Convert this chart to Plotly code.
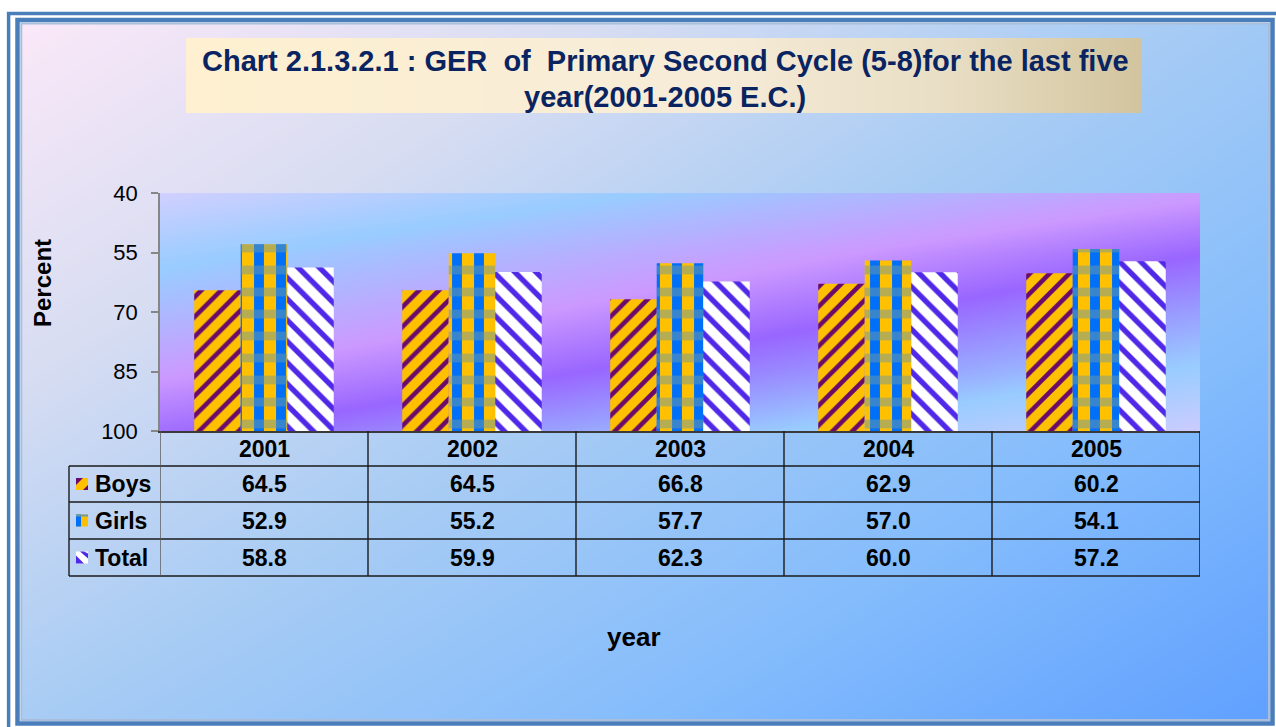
import plotly.graph_objects as go

# ---------------- data ----------------
years = ["2001", "2002", "2003", "2004", "2005"]
boys = [64.5, 64.5, 66.8, 62.9, 60.2]
girls = [52.9, 55.2, 57.7, 57.0, 54.1]
total = [58.8, 59.9, 62.3, 60.0, 57.2]
series_names = ["Boys", "Girls", "Total"]
y_ticks = [40, 55, 70, 85, 100]
axis_base = 100
axis_top = 40

title_line1 = "Chart 2.1.3.2.1 : GER  of  Primary Second Cycle (5-8)for the last five"
title_line2 = "year(2001-2005 E.C.)"
y_title = "Percent"
x_title = "year"

# ---------------- layout helpers ----------------
W, H = 1276, 727
FONT = "Liberation Sans, Arial, sans-serif"


def fx(px):
    return px / W


def fy(py):
    return 1 - py / H


def path(points):
    return "M " + " L ".join(f"{fx(x):.5f},{fy(y):.5f}" for x, y in points) + " Z"


PLOT_L, PLOT_R, PLOT_T, PLOT_B = 160, 1200, 193, 431
xpos = list(range(len(years)))

fig = go.Figure()

# page background gradient (decoration) on its own invisible axes
fig.add_trace(go.Heatmap(
    x=[0, 1], y=[0, 1], z=[[0.5, 1.0], [0.0, 0.55]],
    zsmooth="best", showscale=False, hoverinfo="skip",
    colorscale=[[0, "#FAE8F8"], [0.25, "#D8DDF2"], [0.5, "#A8CCF4"],
                [0.75, "#84BCFC"], [1, "#60A0FF"]],
    xaxis="x", yaxis="y",
))

# plot-area gradient (decoration)
fig.add_trace(go.Heatmap(
    x=[-0.5, len(years) - 0.5], y=y_ticks,
    z=[[0.05, 0.45], [0.2, 0.6], [0.32, 0.72], [0.45, 0.83], [0.58, 0.97]],
    zsmooth="best", showscale=False, hoverinfo="skip",
    colorscale=[[0, "#D0D0FF"], [0.2, "#99CCFF"], [0.45, "#CC99FF"],
                [0.6, "#9966FF"], [0.83, "#99CCFF"], [1, "#CCCCFF"]],
    xaxis="x2", yaxis="y2",
))

bar_w = 0.2236
offsets = [-0.3355, -0.1119, 0.1117]
styles = [
    dict(shape="/", bgcolor="#FFC000", fgcolor="#6A0A6A", size=14, solidity=0.33),
    dict(shape="|", bgcolor="#FFC000", fgcolor="#0070F8", size=22, solidity=0.45),
    dict(shape="\\", bgcolor="#FFFFFF", fgcolor="#5028E8", size=15, solidity=0.36),
]
for name, vals, off, st in zip(series_names, [boys, girls, total], offsets, styles):
    fig.add_trace(go.Bar(
        name=name, x=xpos, y=[v - axis_base for v in vals], base=axis_base,
        width=bar_w, offset=off, xaxis="x2", yaxis="y2",
        marker=dict(color=st["bgcolor"], line=dict(width=0),
                    pattern=dict(fillmode="replace", **st)),
        hoverinfo="skip", showlegend=False,
    ))

# horizontal check bands on the Girls bars
fig.add_trace(go.Bar(
    name="Girls", x=xpos, y=[v - axis_base for v in girls], base=axis_base,
    width=bar_w, offset=offsets[1], xaxis="x2", yaxis="y2",
    marker=dict(color="rgba(0,0,0,0)", line=dict(width=0),
                pattern=dict(shape="-", fgcolor="#6E9AA4", bgcolor="rgba(0,0,0,0)",
                             size=22, solidity=0.4, fillmode="overlay")),
    hoverinfo="skip", showlegend=False,
))

# title box gradient
fig.add_trace(go.Heatmap(
    x=[0, 1], y=[0, 1], z=[[0, 1], [0, 1]],
    zsmooth="best", showscale=False, hoverinfo="skip",
    colorscale=[[0, "#FEF0D0"], [0.55, "#F6ECD8"], [0.8, "#E8DEC4"], [1, "#D2C49E"]],
    xaxis="x3", yaxis="y3",
))

shapes = []
BLUE = "#4A7EBB"
# outer frame
shapes.append(dict(type="line", xref="paper", yref="paper", x0=fx(8.6), x1=fx(8.6),
                   y0=fy(12), y1=fy(730), line=dict(color=BLUE, width=3.5)))
shapes.append(dict(type="line", xref="paper", yref="paper", x0=fx(7), x1=fx(1280),
                   y0=fy(13.6), y1=fy(13.6), line=dict(color=BLUE, width=3.5)))
shapes.append(dict(type="rect", xref="paper", yref="paper", x0=fx(17.5), x1=fx(1272.5),
                   y0=fy(20), y1=fy(723.5), line=dict(color=BLUE, width=4.5)))
shapes.append(dict(type="rect", xref="paper", yref="paper", x0=fx(21.3), x1=fx(1269),
                   y0=fy(23.6), y1=fy(720), line=dict(color="#A8BEDC", width=2)))

# data table grid
LINE = dict(color="#1A1A1A", width=1.4)
for yy in [466, 502, 539, 576]:
    shapes.append(dict(type="line", xref="paper", yref="paper", x0=fx(69), x1=fx(PLOT_R),
                       y0=fy(yy), y1=fy(yy), line=LINE))
shapes.append(dict(type="line", xref="paper", yref="paper", x0=fx(69), x1=fx(69),
                   y0=fy(466), y1=fy(576), line=LINE))
for b in range(len(years) + 1):
    shapes.append(dict(type="line", xref="x2", yref="paper", x0=b - 0.5, x1=b - 0.5,
                       y0=fy(PLOT_B), y1=fy(576),
                       line=dict(color="#555555" if b == 0 else "#1A1A1A", width=1.4)))

# legend keys inside the table
kx0, kx1 = 76, 88
row_centres = [484, 520.5, 557.5]
ky = row_centres[0]
shapes.append(dict(type="path", xref="paper", yref="paper", line=dict(width=0),
                   fillcolor="#FFC000",
                   path=path([(kx0, ky - 6), (kx1, ky - 6), (kx1, ky + 6), (kx0, ky + 6)])))
shapes.append(dict(type="path", xref="paper", yref="paper", line=dict(width=0),
                   fillcolor="#6A0A6A",
                   path=path([(kx0, ky - 6), (kx0 + 7, ky - 6), (kx0, ky + 1)])))
shapes.append(dict(type="path", xref="paper", yref="paper", line=dict(width=0),
                   fillcolor="#6A0A6A",
                   path=path([(kx1, ky + 1), (kx1, ky + 6), (kx1 - 5, ky + 6)])))
ky = row_centres[1]
shapes.append(dict(type="path", xref="paper", yref="paper", line=dict(width=0),
                   fillcolor="#FFC000",
                   path=path([(kx0, ky - 6), (kx1, ky - 6), (kx1, ky + 6), (kx0, ky + 6)])))
shapes.append(dict(type="path", xref="paper", yref="paper", line=dict(width=0),
                   fillcolor="#0070F8",
                   path=path([(kx0, ky - 6), (kx0 + 5, ky - 6), (kx0 + 5, ky + 6), (kx0, ky + 6)])))
shapes.append(dict(type="path", xref="paper", yref="paper", line=dict(width=0),
                   fillcolor="#6E9AA4",
                   path=path([(kx0, ky - 6), (kx1, ky - 6), (kx1, ky - 4), (kx0, ky - 4)])))
ky = row_centres[2]
shapes.append(dict(type="path", xref="paper", yref="paper", line=dict(width=0),
                   fillcolor="#FFFFFF",
                   path=path([(kx0, ky - 6), (kx1, ky - 6), (kx1, ky + 6), (kx0, ky + 6)])))
shapes.append(dict(type="path", xref="paper", yref="paper", line=dict(width=0),
                   fillcolor="#5028E8",
                   path=path([(kx0, ky - 2), (kx0 + 8, ky + 6), (kx0, ky + 6)])))
shapes.append(dict(type="path", xref="paper", yref="paper", line=dict(width=0),
                   fillcolor="#5028E8",
                   path=path([(kx0 + 4, ky - 6), (kx0 + 8, ky - 6), (kx1, ky - 4), (kx1, ky + 1)])))

annotations = []
BOLD = dict(family=FONT, size=23, color="#000000")
for i, yr in enumerate(years):
    annotations.append(dict(x=i, xref="x2", y=fy(449), yref="paper", text=f"<b>{yr}</b>",
                            showarrow=False, font=BOLD, xanchor="center", yanchor="middle"))
for name, vals, yc in zip(series_names, [boys, girls, total], row_centres):
    annotations.append(dict(x=fx(93), xref="paper", y=fy(yc), yref="paper",
                            text=f"<b>{name}</b>", showarrow=False, font=BOLD,
                            xanchor="left", yanchor="middle"))
    for i, v in enumerate(vals):
        annotations.append(dict(x=i, xref="x2", y=fy(yc), yref="paper",
                                text=f"<b>{v:.1f}</b>", showarrow=False, font=BOLD,
                                xanchor="center", yanchor="middle"))

TITLE_FONT = dict(family=FONT, size=29, color="#0A2462")
annotations.append(dict(x=fx(665), y=fy(61), xref="paper", yref="paper",
                        text=f"<b>{title_line1}</b>", showarrow=False, font=TITLE_FONT,
                        xanchor="center", yanchor="middle"))
annotations.append(dict(x=fx(665), y=fy(97), xref="paper", yref="paper",
                        text=f"<b>{title_line2}</b>", showarrow=False, font=TITLE_FONT,
                        xanchor="center", yanchor="middle"))
annotations.append(dict(x=fx(42), y=fy(283), xref="paper", yref="paper",
                        text=f"<b>{y_title}</b>", showarrow=False, textangle=-90,
                        font=dict(family=FONT, size=24, color="#000000"),
                        xanchor="center", yanchor="middle"))
annotations.append(dict(x=fx(634), y=fy(637), xref="paper", yref="paper",
                        text=f"<b>{x_title}</b>", showarrow=False,
                        font=dict(family=FONT, size=26, color="#000000"),
                        xanchor="center", yanchor="middle"))

hidden = dict(visible=False, fixedrange=True, range=[0, 1])
fig.update_layout(
    width=W, height=H,
    margin=dict(l=0, r=0, t=0, b=0, pad=0, autoexpand=False),
    paper_bgcolor="#FFFFFF",
    plot_bgcolor="rgba(0,0,0,0)",
    showlegend=False,
    barmode="overlay",
    xaxis=dict(domain=[fx(22), fx(1270)], **hidden),
    yaxis=dict(domain=[fy(721), fy(23)], **hidden),
    xaxis2=dict(domain=[fx(PLOT_L), fx(PLOT_R)], range=[-0.5, len(years) - 0.5],
                showgrid=False, zeroline=False, showticklabels=False, ticks="",
                showline=True, linecolor="#3A3A3A", linewidth=1.5,
                anchor="y2", fixedrange=True, automargin=False),
    yaxis2=dict(domain=[fy(PLOT_B), fy(PLOT_T)], range=[axis_base, axis_top],
                tickvals=y_ticks, ticks="outside", ticklen=7, tickcolor="#868686",
                tickwidth=1.5, showline=True, linecolor="#868686", linewidth=1.5,
                showgrid=False, zeroline=False, ticklabelstandoff=9,
                tickfont=dict(family=FONT, size=22, color="#000000"),
                anchor="x2", fixedrange=True, automargin=False),
    xaxis3=dict(domain=[fx(186), fx(1141)], anchor="y3", **hidden),
    yaxis3=dict(domain=[fy(113), fy(38)], anchor="x3", **hidden),
    shapes=shapes,
    annotations=annotations,
)

fig.write_html(
    "out.html",
    config={"displayModeBar": False},
    post_script="document.body.style.margin='0';document.body.style.overflow='hidden';",
)
